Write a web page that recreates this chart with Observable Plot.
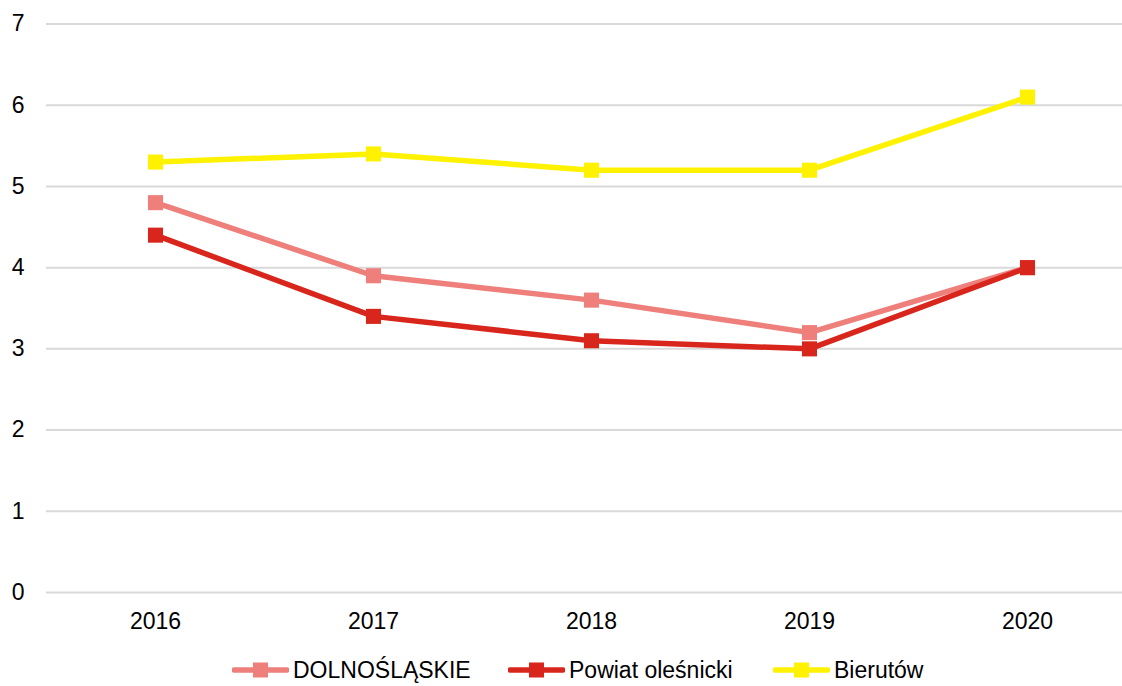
<!DOCTYPE html>
<html>
<head>
<meta charset="utf-8">
<script src="https://cdn.jsdelivr.net/npm/d3@7"></script>
<script src="https://cdn.jsdelivr.net/npm/@observablehq/plot@0.6"></script>
<style>
  html, body { margin: 0; padding: 0; background: #fff; }
  body { width: 1122px; height: 686px; overflow: hidden; font-family: "Liberation Sans", Arial, sans-serif; position: relative; }
  #legend { position: absolute; left: 0; top: 654px; width: 1122px; height: 32px; }
  .item { position: absolute; top: 0; height: 32px; display: flex; align-items: center; font-size: 23px; line-height: 26px; color: #000; white-space: nowrap; }
  .item svg { margin-right: 4px; }
</style>
</head>
<body>
<div id="chart"></div>
<div id="legend"></div>
<script>
const years = ["2016", "2017", "2018", "2019", "2020"];
const seriesNames = ["DOLNOŚLĄSKIE", "Powiat oleśnicki", "Bierutów"];
const dolnoslaskie = [4.8, 3.9, 3.6, 3.2, 4.0];
const powiat = [4.4, 3.4, 3.1, 3.0, 4.0];
const bierutow = [5.3, 5.4, 5.2, 5.2, 6.1];
const yTicks = [0, 1, 2, 3, 4, 5, 6, 7];
const colors = ["#EE7F7B", "#D9261C", "#FFF200"];

const values = [dolnoslaskie, powiat, bierutow];
const data = [];
seriesNames.forEach((s, i) => years.forEach((y, j) => data.push({series: s, year: y, value: values[i][j]})));

const chart = Plot.plot({
  width: 1122,
  height: 650,
  marginLeft: 46,
  marginRight: 0,
  marginTop: 23.5,
  marginBottom: 58,
  style: {fontFamily: "Liberation Sans, Arial, sans-serif", fontSize: "23px", color: "#000", background: "#fff"},
  x: {type: "point", domain: years, range: [46, 1136], padding: 0.5, label: null},
  y: {domain: [0, 7], label: null},
  marks: [
    Plot.ruleY(yTicks, {stroke: "#d9d9d9", strokeWidth: 2}),
    Plot.axisY(yTicks, {tickSize: 0, tickPadding: 22, label: null, fontSize: 23, tickFormat: d3.format("d")}),
    Plot.axisX(years, {tickSize: 0, tickPadding: 20, label: null, fontSize: 23}),
    ...seriesNames.map((s, i) => Plot.line(data.filter(d => d.series === s), {x: "year", y: "value", stroke: colors[i], strokeWidth: 5.5})),
    ...seriesNames.map((s, i) => Plot.dot(data.filter(d => d.series === s), {x: "year", y: "value", fill: colors[i], symbol: "square", r: 8.5}))
  ]
});
document.getElementById("chart").appendChild(chart);

const legend = document.getElementById("legend");
const lefts = [232, 508, 773];
seriesNames.forEach((s, i) => {
  const div = document.createElement("div");
  div.className = "item";
  div.style.left = lefts[i] + "px";
  div.innerHTML = `<svg width="57" height="20"><line x1="2" x2="55" y1="10" y2="10" stroke="${colors[i]}" stroke-width="5.5" stroke-linecap="round"/><rect x="21" y="2.5" width="15" height="15" fill="${colors[i]}"/></svg><span>${s}</span>`;
  legend.appendChild(div);
});
</script>
</body>
</html>
